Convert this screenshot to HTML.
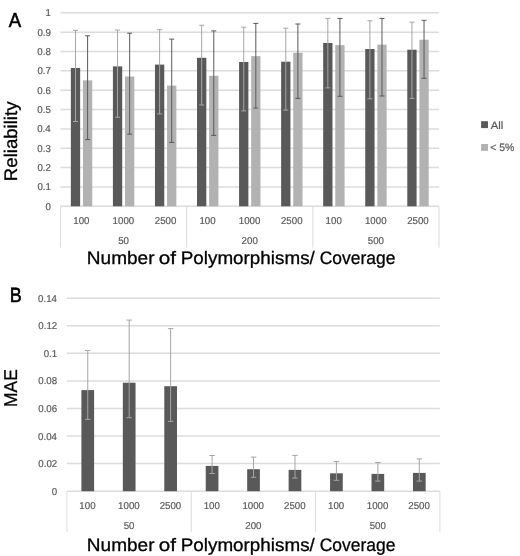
<!DOCTYPE html>
<html><head><meta charset="utf-8"><style>
html,body{margin:0;padding:0;background:#fff;}
body{width:520px;height:556px;overflow:hidden;}
svg{display:block;font-family:"Liberation Sans", sans-serif;filter:blur(0.3px);will-change:transform;text-rendering:geometricPrecision;}
</style></head><body>
<svg width="520" height="556" viewBox="0 0 520 556">
<rect x="0" y="0" width="520" height="556" fill="#fff"/>
<line x1="60.50" y1="186.95" x2="439.00" y2="186.95" stroke="#dcdcdc" stroke-width="1.5"/>
<line x1="60.50" y1="167.60" x2="439.00" y2="167.60" stroke="#dcdcdc" stroke-width="1.5"/>
<line x1="60.50" y1="148.25" x2="439.00" y2="148.25" stroke="#dcdcdc" stroke-width="1.5"/>
<line x1="60.50" y1="128.90" x2="439.00" y2="128.90" stroke="#dcdcdc" stroke-width="1.5"/>
<line x1="60.50" y1="109.55" x2="439.00" y2="109.55" stroke="#dcdcdc" stroke-width="1.5"/>
<line x1="60.50" y1="90.20" x2="439.00" y2="90.20" stroke="#dcdcdc" stroke-width="1.5"/>
<line x1="60.50" y1="70.85" x2="439.00" y2="70.85" stroke="#dcdcdc" stroke-width="1.5"/>
<line x1="60.50" y1="51.50" x2="439.00" y2="51.50" stroke="#dcdcdc" stroke-width="1.5"/>
<line x1="60.50" y1="32.15" x2="439.00" y2="32.15" stroke="#dcdcdc" stroke-width="1.5"/>
<line x1="60.50" y1="12.80" x2="439.00" y2="12.80" stroke="#dcdcdc" stroke-width="1.5"/>
<line x1="60.50" y1="206.30" x2="439.00" y2="206.30" stroke="#dcdcdc" stroke-width="1.5"/>
<text transform="translate(45.38,209.80) scale(0.9700,1)" font-size="10.00" fill="#595959" stroke="#595959" stroke-width="0.2">0</text>
<text transform="translate(37.38,190.45) scale(0.9700,1)" font-size="10.00" fill="#595959" stroke="#595959" stroke-width="0.2">0.1</text>
<text transform="translate(37.40,171.10) scale(0.9700,1)" font-size="10.00" fill="#595959" stroke="#595959" stroke-width="0.2">0.2</text>
<text transform="translate(37.34,151.75) scale(0.9700,1)" font-size="10.00" fill="#595959" stroke="#595959" stroke-width="0.2">0.3</text>
<text transform="translate(37.21,132.40) scale(0.9700,1)" font-size="10.00" fill="#595959" stroke="#595959" stroke-width="0.2">0.4</text>
<text transform="translate(37.32,113.05) scale(0.9700,1)" font-size="10.00" fill="#595959" stroke="#595959" stroke-width="0.2">0.5</text>
<text transform="translate(37.34,93.70) scale(0.9700,1)" font-size="10.00" fill="#595959" stroke="#595959" stroke-width="0.2">0.6</text>
<text transform="translate(37.40,74.35) scale(0.9700,1)" font-size="10.00" fill="#595959" stroke="#595959" stroke-width="0.2">0.7</text>
<text transform="translate(37.34,55.00) scale(0.9700,1)" font-size="10.00" fill="#595959" stroke="#595959" stroke-width="0.2">0.8</text>
<text transform="translate(37.38,35.65) scale(0.9700,1)" font-size="10.00" fill="#595959" stroke="#595959" stroke-width="0.2">0.9</text>
<text transform="translate(45.47,16.30) scale(0.9700,1)" font-size="10.00" fill="#595959" stroke="#595959" stroke-width="0.2">1</text>
<rect x="70.85" y="68.00" width="9.30" height="138.30" fill="#595959"/>
<rect x="82.95" y="80.35" width="9.30" height="125.95" fill="#b2b2b2"/>
<rect x="112.91" y="66.40" width="9.30" height="139.90" fill="#595959"/>
<rect x="125.01" y="76.50" width="9.30" height="129.80" fill="#b2b2b2"/>
<rect x="154.96" y="64.60" width="9.30" height="141.70" fill="#595959"/>
<rect x="167.06" y="85.60" width="9.30" height="120.70" fill="#b2b2b2"/>
<rect x="197.02" y="57.80" width="9.30" height="148.50" fill="#595959"/>
<rect x="209.12" y="75.80" width="9.30" height="130.50" fill="#b2b2b2"/>
<rect x="239.07" y="62.00" width="9.30" height="144.30" fill="#595959"/>
<rect x="251.17" y="56.15" width="9.30" height="150.15" fill="#b2b2b2"/>
<rect x="281.13" y="61.70" width="9.30" height="144.60" fill="#595959"/>
<rect x="293.23" y="52.80" width="9.30" height="153.50" fill="#b2b2b2"/>
<rect x="323.18" y="43.00" width="9.30" height="163.30" fill="#595959"/>
<rect x="335.28" y="45.10" width="9.30" height="161.20" fill="#b2b2b2"/>
<rect x="365.24" y="49.00" width="9.30" height="157.30" fill="#595959"/>
<rect x="377.34" y="44.60" width="9.30" height="161.70" fill="#b2b2b2"/>
<rect x="407.29" y="49.70" width="9.30" height="156.60" fill="#595959"/>
<rect x="419.39" y="39.70" width="9.30" height="166.60" fill="#b2b2b2"/>
<line x1="75.50" y1="30.35" x2="75.50" y2="121.50" stroke="#a6a6a6" stroke-width="1"/>
<line x1="73.00" y1="30.35" x2="78.00" y2="30.35" stroke="#a6a6a6" stroke-width="1"/>
<line x1="73.00" y1="121.50" x2="78.00" y2="121.50" stroke="#a6a6a6" stroke-width="1"/>
<line x1="87.60" y1="35.80" x2="87.60" y2="139.60" stroke="#595959" stroke-width="1"/>
<line x1="85.10" y1="35.80" x2="90.10" y2="35.80" stroke="#595959" stroke-width="1"/>
<line x1="85.10" y1="139.60" x2="90.10" y2="139.60" stroke="#595959" stroke-width="1"/>
<line x1="117.56" y1="30.00" x2="117.56" y2="117.20" stroke="#a6a6a6" stroke-width="1"/>
<line x1="115.06" y1="30.00" x2="120.06" y2="30.00" stroke="#a6a6a6" stroke-width="1"/>
<line x1="115.06" y1="117.20" x2="120.06" y2="117.20" stroke="#a6a6a6" stroke-width="1"/>
<line x1="129.66" y1="33.20" x2="129.66" y2="134.20" stroke="#595959" stroke-width="1"/>
<line x1="127.16" y1="33.20" x2="132.16" y2="33.20" stroke="#595959" stroke-width="1"/>
<line x1="127.16" y1="134.20" x2="132.16" y2="134.20" stroke="#595959" stroke-width="1"/>
<line x1="159.61" y1="29.70" x2="159.61" y2="113.90" stroke="#a6a6a6" stroke-width="1"/>
<line x1="157.11" y1="29.70" x2="162.11" y2="29.70" stroke="#a6a6a6" stroke-width="1"/>
<line x1="157.11" y1="113.90" x2="162.11" y2="113.90" stroke="#a6a6a6" stroke-width="1"/>
<line x1="171.71" y1="39.10" x2="171.71" y2="142.40" stroke="#595959" stroke-width="1"/>
<line x1="169.21" y1="39.10" x2="174.21" y2="39.10" stroke="#595959" stroke-width="1"/>
<line x1="169.21" y1="142.40" x2="174.21" y2="142.40" stroke="#595959" stroke-width="1"/>
<line x1="201.67" y1="25.30" x2="201.67" y2="105.00" stroke="#a6a6a6" stroke-width="1"/>
<line x1="199.17" y1="25.30" x2="204.17" y2="25.30" stroke="#a6a6a6" stroke-width="1"/>
<line x1="199.17" y1="105.00" x2="204.17" y2="105.00" stroke="#a6a6a6" stroke-width="1"/>
<line x1="213.77" y1="30.90" x2="213.77" y2="135.40" stroke="#595959" stroke-width="1"/>
<line x1="211.27" y1="30.90" x2="216.27" y2="30.90" stroke="#595959" stroke-width="1"/>
<line x1="211.27" y1="135.40" x2="216.27" y2="135.40" stroke="#595959" stroke-width="1"/>
<line x1="243.72" y1="27.20" x2="243.72" y2="110.90" stroke="#a6a6a6" stroke-width="1"/>
<line x1="241.22" y1="27.20" x2="246.22" y2="27.20" stroke="#a6a6a6" stroke-width="1"/>
<line x1="241.22" y1="110.90" x2="246.22" y2="110.90" stroke="#a6a6a6" stroke-width="1"/>
<line x1="255.82" y1="23.40" x2="255.82" y2="108.10" stroke="#595959" stroke-width="1"/>
<line x1="253.32" y1="23.40" x2="258.32" y2="23.40" stroke="#595959" stroke-width="1"/>
<line x1="253.32" y1="108.10" x2="258.32" y2="108.10" stroke="#595959" stroke-width="1"/>
<line x1="285.78" y1="28.20" x2="285.78" y2="110.10" stroke="#a6a6a6" stroke-width="1"/>
<line x1="283.28" y1="28.20" x2="288.28" y2="28.20" stroke="#a6a6a6" stroke-width="1"/>
<line x1="283.28" y1="110.10" x2="288.28" y2="110.10" stroke="#a6a6a6" stroke-width="1"/>
<line x1="297.88" y1="24.00" x2="297.88" y2="98.40" stroke="#595959" stroke-width="1"/>
<line x1="295.38" y1="24.00" x2="300.38" y2="24.00" stroke="#595959" stroke-width="1"/>
<line x1="295.38" y1="98.40" x2="300.38" y2="98.40" stroke="#595959" stroke-width="1"/>
<line x1="327.83" y1="18.40" x2="327.83" y2="87.90" stroke="#a6a6a6" stroke-width="1"/>
<line x1="325.33" y1="18.40" x2="330.33" y2="18.40" stroke="#a6a6a6" stroke-width="1"/>
<line x1="325.33" y1="87.90" x2="330.33" y2="87.90" stroke="#a6a6a6" stroke-width="1"/>
<line x1="339.93" y1="18.40" x2="339.93" y2="96.30" stroke="#595959" stroke-width="1"/>
<line x1="337.43" y1="18.40" x2="342.43" y2="18.40" stroke="#595959" stroke-width="1"/>
<line x1="337.43" y1="96.30" x2="342.43" y2="96.30" stroke="#595959" stroke-width="1"/>
<line x1="369.89" y1="20.75" x2="369.89" y2="98.80" stroke="#a6a6a6" stroke-width="1"/>
<line x1="367.39" y1="20.75" x2="372.39" y2="20.75" stroke="#a6a6a6" stroke-width="1"/>
<line x1="367.39" y1="98.80" x2="372.39" y2="98.80" stroke="#a6a6a6" stroke-width="1"/>
<line x1="381.99" y1="18.40" x2="381.99" y2="96.00" stroke="#595959" stroke-width="1"/>
<line x1="379.49" y1="18.40" x2="384.49" y2="18.40" stroke="#595959" stroke-width="1"/>
<line x1="379.49" y1="96.00" x2="384.49" y2="96.00" stroke="#595959" stroke-width="1"/>
<line x1="411.94" y1="22.20" x2="411.94" y2="98.40" stroke="#a6a6a6" stroke-width="1"/>
<line x1="409.44" y1="22.20" x2="414.44" y2="22.20" stroke="#a6a6a6" stroke-width="1"/>
<line x1="409.44" y1="98.40" x2="414.44" y2="98.40" stroke="#a6a6a6" stroke-width="1"/>
<line x1="424.04" y1="20.30" x2="424.04" y2="78.30" stroke="#595959" stroke-width="1"/>
<line x1="421.54" y1="20.30" x2="426.54" y2="20.30" stroke="#595959" stroke-width="1"/>
<line x1="421.54" y1="78.30" x2="426.54" y2="78.30" stroke="#595959" stroke-width="1"/>
<line x1="60.50" y1="206.30" x2="60.50" y2="247.50" stroke="#dcdcdc" stroke-width="1"/>
<line x1="186.67" y1="206.30" x2="186.67" y2="247.50" stroke="#dcdcdc" stroke-width="1"/>
<line x1="312.83" y1="206.30" x2="312.83" y2="247.50" stroke="#dcdcdc" stroke-width="1"/>
<line x1="439.00" y1="206.30" x2="439.00" y2="247.50" stroke="#dcdcdc" stroke-width="1"/>
<text transform="translate(73.25,224.00) scale(0.9700,1)" font-size="10.00" fill="#595959" stroke="#595959" stroke-width="0.2">100</text>
<text transform="translate(112.61,224.00) scale(0.9700,1)" font-size="10.00" fill="#595959" stroke="#595959" stroke-width="0.2">1000</text>
<text transform="translate(154.79,224.00) scale(0.9700,1)" font-size="10.00" fill="#595959" stroke="#595959" stroke-width="0.2">2500</text>
<text transform="translate(199.42,224.00) scale(0.9700,1)" font-size="10.00" fill="#595959" stroke="#595959" stroke-width="0.2">100</text>
<text transform="translate(238.78,224.00) scale(0.9700,1)" font-size="10.00" fill="#595959" stroke="#595959" stroke-width="0.2">1000</text>
<text transform="translate(280.96,224.00) scale(0.9700,1)" font-size="10.00" fill="#595959" stroke="#595959" stroke-width="0.2">2500</text>
<text transform="translate(325.59,224.00) scale(0.9700,1)" font-size="10.00" fill="#595959" stroke="#595959" stroke-width="0.2">100</text>
<text transform="translate(364.95,224.00) scale(0.9700,1)" font-size="10.00" fill="#595959" stroke="#595959" stroke-width="0.2">1000</text>
<text transform="translate(407.13,224.00) scale(0.9700,1)" font-size="10.00" fill="#595959" stroke="#595959" stroke-width="0.2">2500</text>
<text transform="translate(118.18,243.90) scale(0.9700,1)" font-size="10.00" fill="#595959" stroke="#595959" stroke-width="0.2">50</text>
<text transform="translate(241.60,243.90) scale(0.9700,1)" font-size="10.00" fill="#595959" stroke="#595959" stroke-width="0.2">200</text>
<text transform="translate(367.82,243.90) scale(0.9700,1)" font-size="10.00" fill="#595959" stroke="#595959" stroke-width="0.2">500</text>
<rect x="481.10" y="121.20" width="6.90" height="6.90" fill="#595959"/>
<rect x="481.10" y="144.00" width="6.90" height="6.90" fill="#b2b2b2"/>
<text transform="translate(490.68,128.70) scale(1.0663,1)" font-size="10.60" fill="#595959" stroke="#595959" stroke-width="0.2">All</text>
<text transform="translate(490.18,150.90) scale(0.9709,1)" font-size="10.80" fill="#595959" stroke="#595959" stroke-width="0.2">&lt; 5%</text>
<text transform="translate(8.86,26.90) scale(0.9198,1)" font-size="20.20" fill="#000" stroke="#000" stroke-width="0.6">A</text>
<text transform="translate(16.60,181.13) rotate(-90) scale(1.0227,1)" font-size="18.20" fill="#000" stroke="#000" stroke-width="0.3">Reliability</text>
<text transform="translate(86.84,263.80) scale(1.0571,1)" font-size="18.00" fill="#000" stroke="#000" stroke-width="0.3">Number</text>
<text transform="translate(158.83,263.80) scale(1.1475,1)" font-size="18.00" fill="#000" stroke="#000" stroke-width="0.3">of</text>
<text transform="translate(180.75,263.80) scale(1.0471,1)" font-size="18.00" fill="#000" stroke="#000" stroke-width="0.3">Polymorphisms/</text>
<text transform="translate(319.73,263.80) scale(0.9691,1)" font-size="18.00" fill="#000" stroke="#000" stroke-width="0.3">Coverage</text>
<line x1="66.90" y1="463.62" x2="439.90" y2="463.62" stroke="#dcdcdc" stroke-width="1.5"/>
<line x1="66.90" y1="436.04" x2="439.90" y2="436.04" stroke="#dcdcdc" stroke-width="1.5"/>
<line x1="66.90" y1="408.46" x2="439.90" y2="408.46" stroke="#dcdcdc" stroke-width="1.5"/>
<line x1="66.90" y1="380.88" x2="439.90" y2="380.88" stroke="#dcdcdc" stroke-width="1.5"/>
<line x1="66.90" y1="353.30" x2="439.90" y2="353.30" stroke="#dcdcdc" stroke-width="1.5"/>
<line x1="66.90" y1="325.72" x2="439.90" y2="325.72" stroke="#dcdcdc" stroke-width="1.5"/>
<line x1="66.90" y1="298.14" x2="439.90" y2="298.14" stroke="#dcdcdc" stroke-width="1.5"/>
<line x1="66.90" y1="491.20" x2="439.90" y2="491.20" stroke="#dcdcdc" stroke-width="1.5"/>
<text transform="translate(51.68,494.70) scale(0.9700,1)" font-size="10.00" fill="#595959" stroke="#595959" stroke-width="0.2">0</text>
<text transform="translate(38.31,467.12) scale(0.9700,1)" font-size="10.00" fill="#595959" stroke="#595959" stroke-width="0.2">0.02</text>
<text transform="translate(38.11,439.54) scale(0.9700,1)" font-size="10.00" fill="#595959" stroke="#595959" stroke-width="0.2">0.04</text>
<text transform="translate(38.25,411.96) scale(0.9700,1)" font-size="10.00" fill="#595959" stroke="#595959" stroke-width="0.2">0.06</text>
<text transform="translate(38.25,384.38) scale(0.9700,1)" font-size="10.00" fill="#595959" stroke="#595959" stroke-width="0.2">0.08</text>
<text transform="translate(43.68,356.80) scale(0.9700,1)" font-size="10.00" fill="#595959" stroke="#595959" stroke-width="0.2">0.1</text>
<text transform="translate(38.31,329.22) scale(0.9700,1)" font-size="10.00" fill="#595959" stroke="#595959" stroke-width="0.2">0.12</text>
<text transform="translate(38.11,301.64) scale(0.9700,1)" font-size="10.00" fill="#595959" stroke="#595959" stroke-width="0.2">0.14</text>
<rect x="81.40" y="390.10" width="12.70" height="101.10" fill="#595959"/>
<rect x="122.84" y="382.70" width="12.70" height="108.50" fill="#595959"/>
<rect x="164.29" y="386.20" width="12.70" height="105.00" fill="#595959"/>
<rect x="205.73" y="465.90" width="12.70" height="25.30" fill="#595959"/>
<rect x="247.18" y="469.20" width="12.70" height="22.00" fill="#595959"/>
<rect x="288.62" y="469.90" width="12.70" height="21.30" fill="#595959"/>
<rect x="330.07" y="473.30" width="12.70" height="17.90" fill="#595959"/>
<rect x="371.51" y="473.90" width="12.70" height="17.30" fill="#595959"/>
<rect x="412.96" y="472.90" width="12.70" height="18.30" fill="#595959"/>
<line x1="87.75" y1="350.40" x2="87.75" y2="419.40" stroke="#a6a6a6" stroke-width="1"/>
<line x1="85.00" y1="350.40" x2="90.50" y2="350.40" stroke="#a6a6a6" stroke-width="1"/>
<line x1="85.00" y1="419.40" x2="90.50" y2="419.40" stroke="#a6a6a6" stroke-width="1"/>
<line x1="129.19" y1="320.10" x2="129.19" y2="417.70" stroke="#a6a6a6" stroke-width="1"/>
<line x1="126.44" y1="320.10" x2="131.94" y2="320.10" stroke="#a6a6a6" stroke-width="1"/>
<line x1="126.44" y1="417.70" x2="131.94" y2="417.70" stroke="#a6a6a6" stroke-width="1"/>
<line x1="170.64" y1="328.60" x2="170.64" y2="421.40" stroke="#a6a6a6" stroke-width="1"/>
<line x1="167.89" y1="328.60" x2="173.39" y2="328.60" stroke="#a6a6a6" stroke-width="1"/>
<line x1="167.89" y1="421.40" x2="173.39" y2="421.40" stroke="#a6a6a6" stroke-width="1"/>
<line x1="212.08" y1="455.50" x2="212.08" y2="473.50" stroke="#a6a6a6" stroke-width="1"/>
<line x1="209.33" y1="455.50" x2="214.83" y2="455.50" stroke="#a6a6a6" stroke-width="1"/>
<line x1="209.33" y1="473.50" x2="214.83" y2="473.50" stroke="#a6a6a6" stroke-width="1"/>
<line x1="253.53" y1="457.10" x2="253.53" y2="477.30" stroke="#a6a6a6" stroke-width="1"/>
<line x1="250.78" y1="457.10" x2="256.28" y2="457.10" stroke="#a6a6a6" stroke-width="1"/>
<line x1="250.78" y1="477.30" x2="256.28" y2="477.30" stroke="#a6a6a6" stroke-width="1"/>
<line x1="294.97" y1="455.40" x2="294.97" y2="478.10" stroke="#a6a6a6" stroke-width="1"/>
<line x1="292.22" y1="455.40" x2="297.72" y2="455.40" stroke="#a6a6a6" stroke-width="1"/>
<line x1="292.22" y1="478.10" x2="297.72" y2="478.10" stroke="#a6a6a6" stroke-width="1"/>
<line x1="336.42" y1="461.55" x2="336.42" y2="480.30" stroke="#a6a6a6" stroke-width="1"/>
<line x1="333.67" y1="461.55" x2="339.17" y2="461.55" stroke="#a6a6a6" stroke-width="1"/>
<line x1="333.67" y1="480.30" x2="339.17" y2="480.30" stroke="#a6a6a6" stroke-width="1"/>
<line x1="377.86" y1="462.50" x2="377.86" y2="481.10" stroke="#a6a6a6" stroke-width="1"/>
<line x1="375.11" y1="462.50" x2="380.61" y2="462.50" stroke="#a6a6a6" stroke-width="1"/>
<line x1="375.11" y1="481.10" x2="380.61" y2="481.10" stroke="#a6a6a6" stroke-width="1"/>
<line x1="419.31" y1="458.90" x2="419.31" y2="481.10" stroke="#a6a6a6" stroke-width="1"/>
<line x1="416.56" y1="458.90" x2="422.06" y2="458.90" stroke="#a6a6a6" stroke-width="1"/>
<line x1="416.56" y1="481.10" x2="422.06" y2="481.10" stroke="#a6a6a6" stroke-width="1"/>
<line x1="66.90" y1="491.20" x2="66.90" y2="532.00" stroke="#dcdcdc" stroke-width="1"/>
<line x1="191.23" y1="491.20" x2="191.23" y2="532.00" stroke="#dcdcdc" stroke-width="1"/>
<line x1="315.57" y1="491.20" x2="315.57" y2="532.00" stroke="#dcdcdc" stroke-width="1"/>
<line x1="439.90" y1="491.20" x2="439.90" y2="532.00" stroke="#dcdcdc" stroke-width="1"/>
<text transform="translate(79.35,508.90) scale(0.9700,1)" font-size="10.00" fill="#595959" stroke="#595959" stroke-width="0.2">100</text>
<text transform="translate(118.10,508.90) scale(0.9700,1)" font-size="10.00" fill="#595959" stroke="#595959" stroke-width="0.2">1000</text>
<text transform="translate(159.67,508.90) scale(0.9700,1)" font-size="10.00" fill="#595959" stroke="#595959" stroke-width="0.2">2500</text>
<text transform="translate(203.68,508.90) scale(0.9700,1)" font-size="10.00" fill="#595959" stroke="#595959" stroke-width="0.2">100</text>
<text transform="translate(242.43,508.90) scale(0.9700,1)" font-size="10.00" fill="#595959" stroke="#595959" stroke-width="0.2">1000</text>
<text transform="translate(284.00,508.90) scale(0.9700,1)" font-size="10.00" fill="#595959" stroke="#595959" stroke-width="0.2">2500</text>
<text transform="translate(328.01,508.90) scale(0.9700,1)" font-size="10.00" fill="#595959" stroke="#595959" stroke-width="0.2">100</text>
<text transform="translate(366.76,508.90) scale(0.9700,1)" font-size="10.00" fill="#595959" stroke="#595959" stroke-width="0.2">1000</text>
<text transform="translate(408.33,508.90) scale(0.9700,1)" font-size="10.00" fill="#595959" stroke="#595959" stroke-width="0.2">2500</text>
<text transform="translate(123.66,529.00) scale(0.9700,1)" font-size="10.00" fill="#595959" stroke="#595959" stroke-width="0.2">50</text>
<text transform="translate(245.25,529.00) scale(0.9700,1)" font-size="10.00" fill="#595959" stroke="#595959" stroke-width="0.2">200</text>
<text transform="translate(369.63,529.00) scale(0.9700,1)" font-size="10.00" fill="#595959" stroke="#595959" stroke-width="0.2">500</text>
<text transform="translate(9.78,301.75) scale(0.8714,1)" font-size="20.60" fill="#000" stroke="#000" stroke-width="0.6">B</text>
<text transform="translate(16.80,406.93) rotate(-90) scale(0.9397,1)" font-size="18.50" fill="#000" stroke="#000" stroke-width="0.3">MAE</text>
<text transform="translate(86.84,550.90) scale(1.0571,1)" font-size="18.00" fill="#000" stroke="#000" stroke-width="0.3">Number</text>
<text transform="translate(158.83,550.90) scale(1.1475,1)" font-size="18.00" fill="#000" stroke="#000" stroke-width="0.3">of</text>
<text transform="translate(180.75,550.90) scale(1.0471,1)" font-size="18.00" fill="#000" stroke="#000" stroke-width="0.3">Polymorphisms/</text>
<text transform="translate(319.73,550.90) scale(0.9691,1)" font-size="18.00" fill="#000" stroke="#000" stroke-width="0.3">Coverage</text>
</svg>
</body></html>
